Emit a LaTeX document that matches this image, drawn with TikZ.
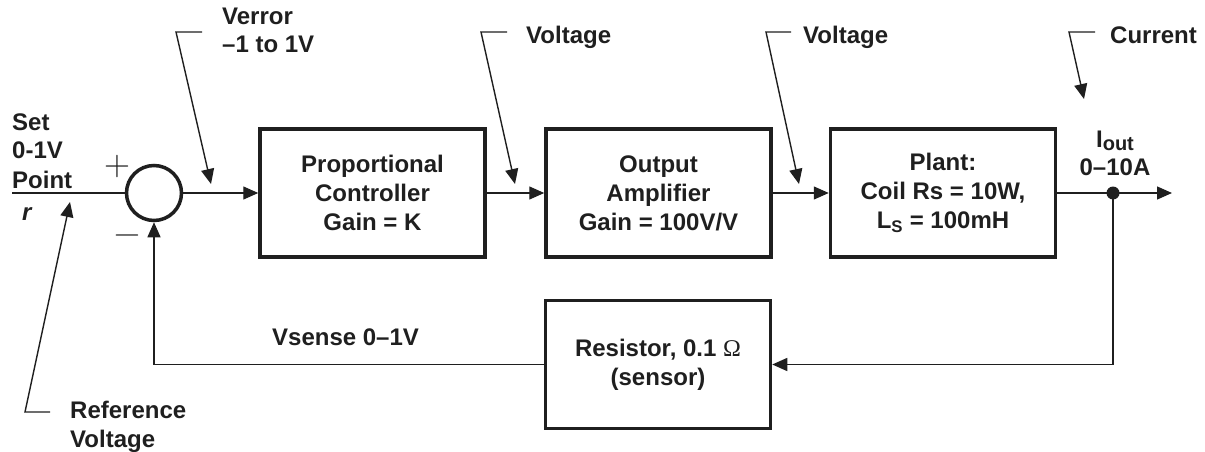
\documentclass[tikz,border=0pt]{standalone}
\usepackage{fontspec}
\setmainfont{Liberation Sans}
\newfontfamily\signfont{Latin Modern Roman}
\usetikzlibrary{arrows.meta}
\begin{document}
\begin{tikzpicture}[x=1pt,y=-1pt,
  txt/.style={font=\fontsize{24}{29}\selectfont\bfseries, inner sep=0pt, text=black!88},
  blk/.style={draw=black!88, line width=3.5pt, minimum width=225pt, minimum height=128pt,
              align=center, font=\fontsize{24}{29}\selectfont\bfseries, text=black!88, inner sep=0pt},
  wire/.style={line width=1.4pt, draw=black!88},
  arr/.style={wire, -{Triangle[length=15pt,width=13pt]}},
  sgn/.style={font=\signfont\fontsize{36}{36}\selectfont, inner sep=0pt, text=black!88}
]
\useasboundingbox (0,0) rectangle (1205,452);

% summing junction
\node[circle, draw=black!88, line width=3.5pt, minimum size=55pt, inner sep=0pt] (sum) at (154,193) {};
\node[sgn] (plus) at (117,167) {+};
\node[sgn] (minus) at (127,240) {−};

% blocks
\node[blk] (b1) at (372.5,193) {Proportional\\Controller\\Gain = K};
\node[blk] (b2) at (658.5,193) {Output\\Amplifier\\Gain = 100V/V};
\node[blk] (b3) at (943,193) {Plant:\\Coil Rs = 10W,\\L\textsubscript{S} = 100mH};
\node[blk] (res) at (658,364.5) {Resistor, 0.1 {\fontspec{Liberation Serif}\mdseries Ω}\\(sensor)};

% output tap
\node[circle, fill=black!88, minimum size=13pt, inner sep=0pt] (dot) at (1113,193) {};
\coordinate (in) at (12,193);
\coordinate (out) at (1172,193);

% main path
\draw[wire] (in) -- (sum.west);
\draw[arr] (sum.east) -- (b1.west);
\draw[arr] (b1.east) -- (b2.west);
\draw[arr] (b2.east) -- (b3.west);
\draw[wire] (b3.east) -- (dot.center);
\draw[arr] (dot.center) -- (out);
\draw[arr] (dot.center) |- (res.east);
\draw[arr] (res.west) -| (sum.south);

% input labels
\node[txt, anchor=base west] (set) at (12,130) {Set};
\node[txt, anchor=base west] (rng) at (12,158) {0-1V};
\node[txt, anchor=base west] (pt) at (12,188) {Point};
\node[txt, anchor=base west] (r) at (22,220) {\itshape r};

% output labels
\node[txt, anchor=base] (iout) at (1115,147) {I\raisebox{-0.3ex}{\fontsize{20}{20}\selectfont out}};
\node[txt, anchor=base] (orng) at (1115,175) {0–10A};

% feedback label
\node[txt, anchor=base west] (vs) at (272,345) {Vsense 0–1V};

% callouts
\coordinate (c1a) at (202,32); \coordinate (c1b) at (176,32); \coordinate (c1t) at (211,184);
\draw[arr] (c1a) -- (c1b) -- (c1t);
\node[txt, anchor=base west] (ve1) at (222,25) {Verror};
\node[txt, anchor=base west] (ve2) at (222,53) {–1 to 1V};

\coordinate (c2a) at (507,32); \coordinate (c2b) at (481,32); \coordinate (c2t) at (515,184);
\draw[arr] (c2a) -- (c2b) -- (c2t);
\node[txt, anchor=base west] (v1) at (526,44) {Voltage};

\coordinate (c3a) at (791,32); \coordinate (c3b) at (766,32); \coordinate (c3t) at (799,184);
\draw[arr] (c3a) -- (c3b) -- (c3t);
\node[txt, anchor=base west] (v2) at (803,44) {Voltage};

\coordinate (c4a) at (1095,32); \coordinate (c4b) at (1069,32); \coordinate (c4t) at (1084,99);
\draw[arr] (c4a) -- (c4b) -- (c4t);
\node[txt, anchor=base west] (cur) at (1110,44) {Current};

\coordinate (c5a) at (50,412); \coordinate (c5b) at (25,412); \coordinate (c5t) at (70,202);
\draw[arr] (c5a) -- (c5b) -- (c5t);
\node[txt, anchor=base west] (rv1) at (70,418) {Reference};
\node[txt, anchor=base west] (rv2) at (70,447) {Voltage};
\end{tikzpicture}
\end{document}
